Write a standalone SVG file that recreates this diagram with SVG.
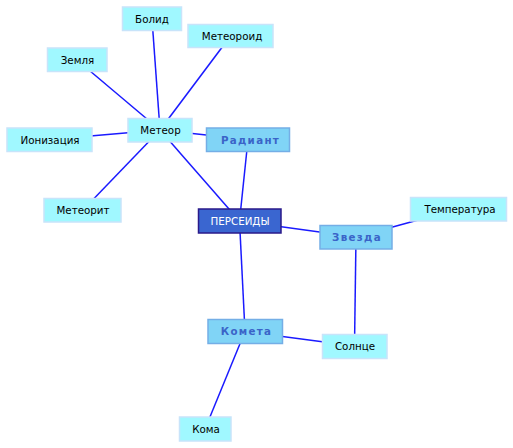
<svg xmlns="http://www.w3.org/2000/svg" width="513" height="448" viewBox="0 0 513 448">
<style>
.e{stroke:#1a1aff;stroke-width:1.5;fill:none}
.n rect{fill:#a0f8ff;stroke:#c8e4fa;stroke-width:1.5}
.n text{font-family:"DejaVu Sans",sans-serif;font-size:10.3px;fill:#000;text-anchor:middle}
.m rect{fill:#80d4f6;stroke:#74aee6;stroke-width:1.5}
.m text{font-family:"DejaVu Sans",sans-serif;font-size:10.3px;font-weight:bold;fill:#3a64c8;text-anchor:middle;letter-spacing:1.3px}
.r rect{fill:#3a66d0;stroke:#2a1a8a;stroke-width:1.5}
.r text{font-family:"DejaVu Sans",sans-serif;font-size:10.3px;fill:#fff;text-anchor:middle}
</style>
<rect width="513" height="448" fill="#fff"/>
<g id="connectors">
<line class="e" x1="152" y1="19" x2="160" y2="130"/>
<line class="e" x1="230.5" y1="36" x2="160" y2="130"/>
<line class="e" x1="77" y1="60" x2="160" y2="130"/>
<line class="e" x1="49.5" y1="139.5" x2="160" y2="130"/>
<line class="e" x1="160" y1="130" x2="248" y2="139.5"/>
<line class="e" x1="160" y1="130" x2="82.5" y2="210.5"/>
<line class="e" x1="160" y1="130" x2="239.5" y2="221"/>
<line class="e" x1="248" y1="139.5" x2="239.5" y2="221"/>
<line class="e" x1="239.5" y1="221" x2="356" y2="237"/>
<line class="e" x1="356" y1="237" x2="458.5" y2="209"/>
<line class="e" x1="356" y1="237" x2="354.5" y2="346"/>
<line class="e" x1="239.5" y1="221" x2="245" y2="331.5"/>
<line class="e" x1="245" y1="331.5" x2="354.5" y2="346"/>
<line class="e" x1="245" y1="331.5" x2="205" y2="429"/>
</g>
<g id="bolid" class="n"><rect x="122.5" y="7" width="59" height="23.5"/><text x="152" y="22.5">Болид</text></g>
<g id="meteoroid" class="n"><rect x="188" y="24.5" width="85" height="23"/><text x="232" y="39.5">Метеороид</text></g>
<g id="zemlya" class="n"><rect x="47.5" y="48" width="59.5" height="23.5"/><text x="77.5" y="63.5">Земля</text></g>
<g id="meteor" class="n"><rect x="128" y="118.5" width="64" height="23.5"/><text x="160.5" y="134">Метеор</text></g>
<g id="ionizatsiya" class="n"><rect x="7" y="128" width="85" height="23.5"/><text x="50" y="143.5">Ионизация</text></g>
<g id="radiant" class="m"><rect x="206.5" y="128" width="83" height="23.5"/><text x="250.5" y="143.5">Радиант</text></g>
<g id="meteorit" class="n"><rect x="44" y="198.5" width="77" height="23.5"/><text x="83" y="214">Метеорит</text></g>
<g id="perseidy" class="r"><rect x="198.5" y="209" width="82.5" height="24"/><text x="240" y="224.5">ПЕРСЕИДЫ</text></g>
<g id="zvezda" class="m"><rect x="320" y="225.5" width="72" height="23.5"/><text x="357" y="241">Звезда</text></g>
<g id="temperatura" class="n"><rect x="410.5" y="197.5" width="96" height="23.5"/><text x="460" y="212.5">Температура</text></g>
<g id="kometa" class="m"><rect x="208" y="319.5" width="74.5" height="24"/><text x="246.5" y="335">Комета</text></g>
<g id="solntse" class="n"><rect x="322.5" y="334.5" width="64.5" height="24"/><text x="355" y="350">Солнце</text></g>
<g id="koma" class="n"><rect x="179.5" y="417" width="51.5" height="24"/><text x="206" y="432.5">Кома</text></g>
</svg>
